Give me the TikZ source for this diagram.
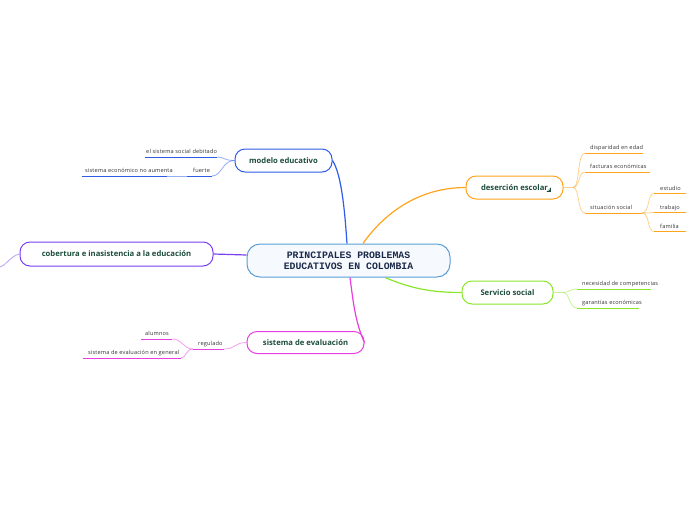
\documentclass[tikz,border=0pt]{standalone}
\usepackage{fontspec}
\setmainfont{Open Sans}
\newfontfamily\mainmono{Liberation Mono}
\newfontfamily\subfont[LetterSpace=3]{Open Sans}
\definecolor{cblue}{HTML}{2E5CE8}
\definecolor{cpurple}{HTML}{7A3FF0}
\definecolor{cmag}{HTML}{E83DE0}
\definecolor{corange}{HTML}{FFA41C}
\definecolor{cgreen}{HTML}{8AE62A}
\definecolor{cmain}{HTML}{5A9ED6}
\definecolor{cmainfill}{HTML}{F6FAFE}
\definecolor{ctopic}{HTML}{1D4D3B}
\definecolor{cnavy}{HTML}{1B2A4A}
\definecolor{csub}{HTML}{333333}
\begin{document}
\begin{tikzpicture}[x=1pt,y=-1pt,
  topic/.style={draw, line width=1pt, rounded corners=10pt, fill=white, text=ctopic,
    font=\fontsize{7.7}{9}\selectfont\bfseries, inner sep=0pt},
  central/.style={draw=cmain, line width=1pt, rounded corners=13pt, fill=cmainfill, text=cnavy,
    font=\fontsize{9.8}{11}\selectfont\mainmono\bfseries, align=center, inner sep=0pt},
  sub/.style={font=\subfont\fontsize{5.6}{6}\selectfont, text=csub, inner sep=0pt, anchor=base west},
  main line/.style={line width=1.2pt},
  uline/.style={line width=1pt},
  thin line/.style={line width=0.8pt, draw opacity=0.5},
]
\useasboundingbox (0,0) rectangle (696,520);

% ---- central ----
\node[central, minimum width=203pt, minimum height=33pt] (main) at (348.5,260.5)
  {PRINCIPALES PROBLEMAS\\EDUCATIVOS EN COLOMBIA};

% ---- main topics ----
\node[topic, draw=cblue, minimum width=97pt, minimum height=23pt] (modelo) at (283.5,160.5) {modelo educativo};
\node[topic, draw=cpurple, minimum width=193pt, minimum height=24pt] (cob) at (116.5,254) {cobertura e inasistencia a la educación};
\node[topic, draw=cmag, minimum width=117pt, minimum height=22pt] (eval) at (305.5,342.5) {sistema de evaluación};
\node[topic, draw=corange, minimum width=97pt, minimum height=23pt] (des) at (514.5,187.5) {deserción escolar\hspace{5pt}};
\node[topic, draw=cgreen, minimum width=91pt, minimum height=23pt] (serv) at (507.5,292.5) {Servicio social};

% link icon
\fill[ctopic] (546.5,191.8) -- (550.8,191.8) -- (550.8,187.5) -- cycle;
\draw[white, line width=0.5pt] (548.2,190.6) -- (549.8,189.0);

% ---- main connectors ----
\draw[main line, cblue] (modelo.east) .. controls (342,175) and (345,215) .. (main.north -| 347,0);
\draw[main line, corange] (main.north -| 363,0) .. controls (385,212) and (420,187.5) .. (des.west);
\draw[main line, cgreen] (main.south -| 385,0) .. controls (410,288) and (430,292.5) .. (serv.west);
\draw[main line, cmag] (main.south -| 350,0) .. controls (353,300) and (355,322) .. (eval.east);
\draw[main line, cpurple] (main.west |- 0,255) -- (cob.east);
\coordinate (cobfree) at (0,267);
\draw[thin line, cpurple] (cob.west) .. controls (10,256) and (8,264) .. (cobfree);

% ---- modelo educativo children ----
\node[sub] (m1) at (146,153.5) {el sistema social debitado};
\coordinate (m1l) at (145,157); \coordinate (m1r) at (217,157);
\node[sub] (m2) at (193,172.5) {fuerte};
\coordinate (m2l) at (187,176); \coordinate (m2r) at (212,176);
\node[sub] (m3) at (85,172.5) {sistema económico no aumenta};
\coordinate (m3l) at (82,176); \coordinate (m3r) at (167,176);
\draw[uline, cblue] (m1l) -- (m1r);
\draw[uline, cblue] (m2l) -- (m2r);
\draw[uline, cblue] (m3l) -- (m3r);
\draw[thin line, cblue] (modelo.west) .. controls (224,160.5) and (224,157) .. (m1r);
\draw[thin line, cblue] (modelo.west) .. controls (222,160.5) and (222,176) .. (m2r);
\draw[thin line, cblue] (m2l) -- (m3r);

% ---- sistema de evaluacion children ----
\node[sub] (r) at (198,345.5) {regulado};
\coordinate (rl) at (193,349); \coordinate (rr) at (224,349);
\node[sub] (a) at (145,335.5) {alumnos};
\coordinate (al) at (141,339); \coordinate (ar) at (172,339);
\node[sub] (g) at (88,354.5) {sistema de evaluación en general};
\coordinate (gl) at (83,358); \coordinate (gr) at (181,358);
\draw[uline, cmag] (rl) -- (rr);
\draw[uline, cmag] (al) -- (ar);
\draw[uline, cmag] (gl) -- (gr);
\draw[thin line, cmag] (eval.west) .. controls (234,342.5) and (236,349) .. (rr);
\draw[thin line, cmag] (rl) .. controls (183,349) and (183,339) .. (ar);
\draw[thin line, cmag] (rl) .. controls (186,349) and (186,358) .. (gr);

% ---- desercion escolar children ----
\coordinate (dj) at (573,187.5);
\node[sub] (d1) at (590,149.5) {disparidad en edad};
\coordinate (d1l) at (585,153); \coordinate (d1r) at (643,153);
\node[sub] (d2) at (590,168.5) {facturas económicas};
\coordinate (d2l) at (585,172); \coordinate (d2r) at (650,172);
\node[sub] (d3) at (590,209.5) {situación social};
\coordinate (d3l) at (585,213); \coordinate (d3r) at (642,213);
\draw[uline, corange] (d1l) -- (d1r);
\draw[uline, corange] (d2l) -- (d2r);
\draw[uline, corange] (d3l) -- (d3r);
\draw[thin line, corange] (des.east) -- (dj);
\draw[thin line, corange] (dj) .. controls (580,187.5) and (577,153) .. (d1l);
\draw[thin line, corange] (dj) .. controls (580,187.5) and (578,172) .. (d2l);
\draw[thin line, corange] (dj) .. controls (580,187.5) and (577,213) .. (d3l);
\node[sub] (e1) at (660,190) {estudio};
\coordinate (e1l) at (654,193.5); \coordinate (e1r) at (686,193.5);
\node[sub] (e2) at (660,209) {trabajo};
\coordinate (e2l) at (654,212.5); \coordinate (e2r) at (686,212.5);
\node[sub] (e3) at (660,228) {familia};
\coordinate (e3l) at (654,231.5); \coordinate (e3r) at (686,231.5);
\draw[uline, corange] (e1l) -- (e1r);
\draw[uline, corange] (e2l) -- (e2r);
\draw[uline, corange] (e3l) -- (e3r);
\draw[thin line, corange] (d3r) .. controls (650,213) and (647,193.5) .. (e1l);
\draw[thin line, corange] (d3r) -- (e2l);
\draw[thin line, corange] (d3r) .. controls (650,213) and (647,231.5) .. (e3l);

% ---- servicio social children ----
\coordinate (sj) at (563,292.5);
\node[sub] (s1) at (582,285.5) {necesidad de competencias};
\coordinate (s1l) at (577,289); \coordinate (s1r) at (651,289);
\node[sub] (s2) at (582,304.5) {garantías económicas};
\coordinate (s2l) at (577,308); \coordinate (s2r) at (639,308);
\draw[uline, cgreen] (s1l) -- (s1r);
\draw[uline, cgreen] (s2l) -- (s2r);
\draw[thin line, cgreen] (serv.east) -- (sj);
\draw[thin line, cgreen] (sj) .. controls (570,292.5) and (569,289) .. (s1l);
\draw[thin line, cgreen] (sj) .. controls (570,292.5) and (569,308) .. (s2l);
\end{tikzpicture}
\end{document}
